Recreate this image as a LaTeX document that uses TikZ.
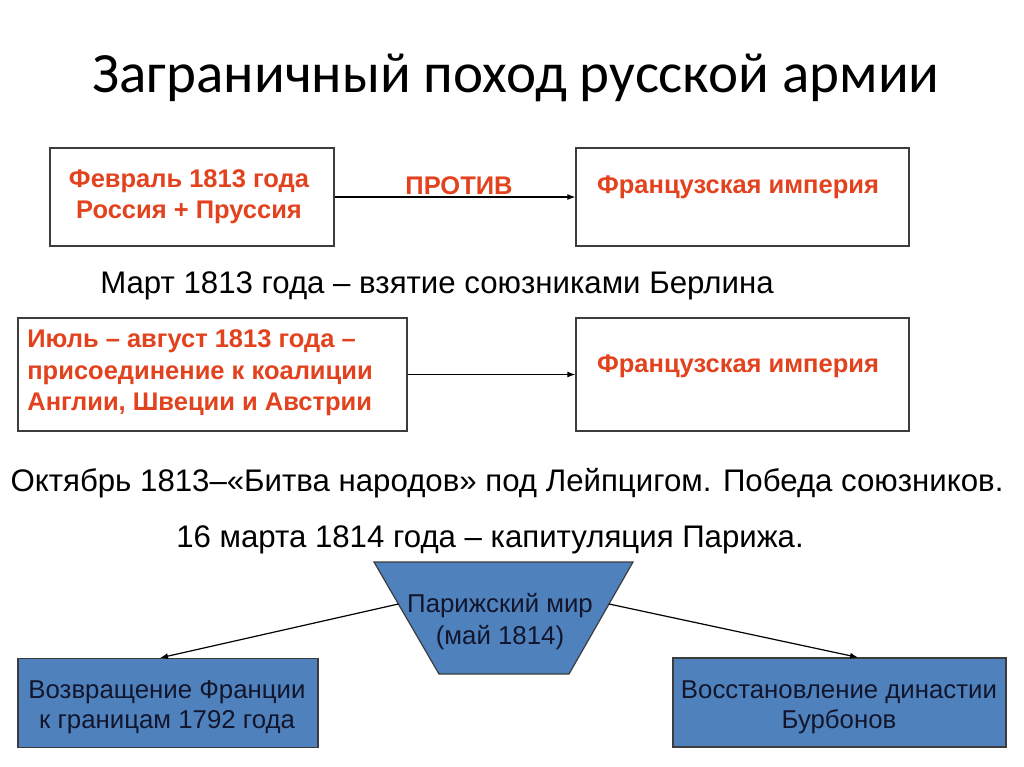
\documentclass[tikz,border=0pt]{standalone}
\usepackage{fontspec}
\setmainfont{Liberation Sans}
\newfontfamily\titlefont{Carlito}
\usetikzlibrary{arrows.meta,calc}
\definecolor{redtxt}{RGB}{226,66,30}
\definecolor{boxblue}{RGB}{79,129,189}
\definecolor{darktxt}{RGB}{18,22,45}
\definecolor{edge}{RGB}{60,60,60}
\tikzset{
  wbox/.style={draw=edge,line width=1.3pt,fill=white,rectangle,inner sep=0pt},
  bbox/.style={draw=edge,line width=1.2pt,fill=boxblue,rectangle,inner sep=0pt},
  btxt/.style={inner sep=0pt,align=center,text=darktxt,font=\fontsize{25.8}{30}\selectfont},
  redt/.style={text=redtxt,font=\bfseries\fontsize{25.5}{31}\selectfont,inner sep=0pt},
  plain/.style={text=black,font=\fontsize{31.2}{37}\selectfont,inner sep=0pt},
  arr/.style={line width=1.2pt,-{Latex[length=8pt,width=6pt]}}
}
\begin{document}
\begin{tikzpicture}[x=1pt,y=-1pt]
\useasboundingbox (0,0) rectangle (1024,767);
\fill[white] (0,0) rectangle (1024,767);
% title
\node[inner sep=0pt,font=\titlefont\fontsize{57}{64}\selectfont] (title) at (516,78) {Заграничный поход русской армии};
% row 1
\node[wbox,minimum width=284pt,minimum height=98pt] (b1) at (192,197) {};
\node[redt,align=center] (t1) at (189,197) {Февраль 1813 года\\Россия + Пруссия};
\node[wbox,minimum width=333pt,minimum height=98pt] (b2) at (742.5,197) {};
\node[redt] (t2) at (738,187) {Французская империя};
\draw[arr] (b1.east) -- (b2.west);
\node[redt] (pr) at (459,186) {ПРОТИВ};
% March
\node[plain] (m1) at (437,286) {Март 1813 года – взятие союзниками Берлина};
% row 2
\node[wbox,minimum width=389pt,minimum height=113pt] (b3) at (212.5,374.5) {};
\node[redt,align=left,font=\bfseries\fontsize{25.5}{31.5}\selectfont] (t3) at (200,373) {Июль – август 1813 года –\\присоединение к коалиции\\Англии, Швеции и Австрии};
\node[wbox,minimum width=333pt,minimum height=113pt] (b4) at (742.5,374.5) {};
\node[redt] (t4) at (738,366) {Французская империя};
\draw[arr] (b3.east) -- (b4.west);
% lines of text
\node[plain] (oct) at (507,483) {Октябрь 1813–«Битва народов» под Лейпцигом. Победа союзников.};
\node[plain] (mar) at (490,540) {16 марта 1814 года – капитуляция Парижа.};
% trapezoid
\coordinate (tl) at (374,562);
\coordinate (tr) at (633,562);
\coordinate (br) at (569,674);
\coordinate (bl) at (439,674);
\draw[draw=edge,line width=1.2pt,fill=boxblue] (tl) -- (tr) -- (br) -- (bl) -- cycle;
\node[inner sep=0pt,align=center,text=darktxt,font=\fontsize{25.8}{32}\selectfont] (pm) at (500,622) {Парижский мир\\(май 1814)};
\coordinate (le) at ($(tl)!0.375!(bl)$);
\coordinate (re) at ($(tr)!0.375!(br)$);
% bottom boxes
\node[bbox,minimum width=300pt,minimum height=89pt] (b5) at (168,703) {};
\node[btxt] (t5) at (167,707) {Возвращение Франции\\ к границам 1792 года};
\node[bbox,minimum width=333pt,minimum height=89pt] (b6) at (839.5,702.5) {};
\node[btxt] (t6) at (839,707) {Восстановление династии\\Бурбонов};
\draw[arr] (le) -- ([xshift=-8pt]b5.north);
\draw[arr] (re) -- ([xshift=18.5pt]b6.north);
\end{tikzpicture}
\end{document}
